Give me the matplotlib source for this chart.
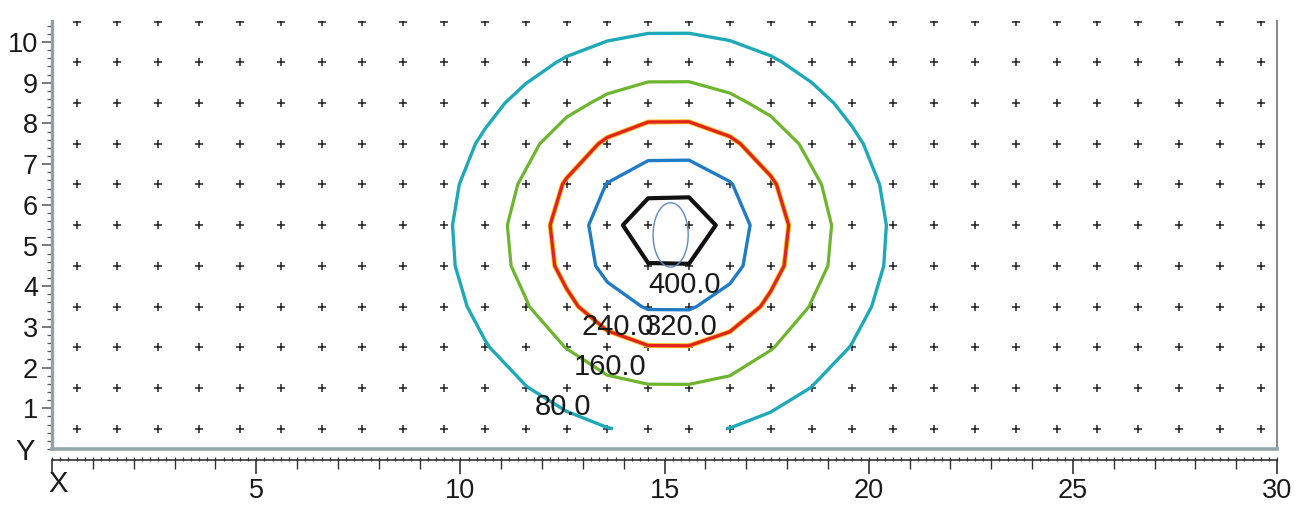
import numpy as np
import matplotlib
matplotlib.use("Agg")
import matplotlib.pyplot as plt
from matplotlib.ticker import MultipleLocator, FixedLocator, FuncFormatter

# ---------------- data ----------------
# receptor grid nodes (the "+" markers)
grid_x = [0.6, 1.6, 2.6, 3.6, 4.6, 5.6, 6.6, 7.6, 8.6, 9.6,
          10.6, 11.6, 12.6, 13.6, 14.6, 15.6, 16.6, 17.6, 18.6, 19.6,
          20.6, 21.6, 22.6, 23.6, 24.6, 25.6, 26.6, 27.6, 28.6, 29.6]
grid_y = [0.5, 1.5, 2.5, 3.5, 4.5, 5.5, 6.5, 7.5, 8.5, 9.5, 10.5]

source_x = 15.12
source_y = 5.28
contour_levels = [80, 160, 240, 320, 400]
ring_radius_x = [5.33, 3.88, 2.91, 2.02, 1.02]
ring_radius_y = [4.96, 3.69, 2.78, 1.94, 0.82]
peak_value = 560.0
far_value = 0.0
far_radius_factor = 1.25

# small innermost (unlabelled) loop
inner_x = 15.15
inner_y = 5.26
inner_rx = 0.43
inner_ry = 0.79

x_tick_labels = [5, 10, 15, 20, 25, 30]
y_tick_labels = [1, 2, 3, 4, 5, 6, 7, 8, 9, 10]

# ---------------- styles ----------------
ring_colors = ["#1ea9b9", "#6cb52c", "#e3211f", "#1f7bc6", "#111111"]
ring_widths = [2.4, 2.3, 2.3, 2.4, 3.0]
label_font = "Liberation Sans"
y_top = 10.51
px_per_unit_y = 40.7
axes_h_px = y_top * px_per_unit_y

# ---------------- build field on the receptor grid ----------------
GX, GY = np.meshgrid(np.array(grid_x), np.array(grid_y))
Z = np.zeros_like(GX)
lv = np.array(contour_levels, dtype=float)
rx = np.array(ring_radius_x)
ry = np.array(ring_radius_y)
order = np.argsort(rx)
for i in range(GX.shape[0]):
    for j in range(GX.shape[1]):
        dx = GX[i, j] - source_x
        dy = GY[i, j] - source_y
        d = np.hypot(dx, dy)
        th = np.arctan2(dy, dx)
        r_k = 1.0 / np.sqrt((np.cos(th) / rx) ** 2 + (np.sin(th) / ry) ** 2)
        radii = np.concatenate([[0.0], r_k[order], [r_k[order][-1] * far_radius_factor]])
        vals = np.concatenate([[peak_value], lv[order], [far_value]])
        Z[i, j] = np.interp(d, radii, vals)

# ---------------- figure ----------------
fig = plt.figure(figsize=(13.12, 5.11), dpi=100)
ax = fig.add_axes([52 / 1312, 62 / 511, 1225 / 1312, axes_h_px / 511])
ax.set_xlim(0, 30)
ax.set_ylim(0, y_top)

# grid markers
ax.plot(GX.ravel(), GY.ravel(), linestyle="none", marker="+", color="#222222",
        markersize=6.2, markeredgewidth=1.1, zorder=2)

# red ring yellow fringe
ax.contour(GX, GY, Z, levels=[contour_levels[2]], colors=["#f2c21a"],
           linewidths=[3.6], zorder=3)
ax.contour(GX, GY, Z, levels=contour_levels, colors=ring_colors,
           linewidths=ring_widths, zorder=4)

# innermost thin loop
fx = np.linspace(inner_x - 1.0, inner_x + 1.0, 200)
fy = np.linspace(inner_y - 1.5, inner_y + 1.5, 200)
FX, FY = np.meshgrid(fx, fy)
F = ((FX - inner_x) / inner_rx) ** 2 + ((FY - inner_y) / inner_ry) ** 2
ax.contour(FX, FY, F, levels=[1.0], colors=["#5d8cc2"], linewidths=[1.0], zorder=4)

# contour labels (manual placement like the original)
label_pos = {400: (15.50, 4.03), 320: (15.41, 3.0), 240: (13.86, 3.0),
             160: (13.67, 2.01), 80: (12.52, 1.03)}
for lev in contour_levels:
    px, py = label_pos[lev]
    ax.text(px, py, f"{lev:.1f}", ha="center", va="center", fontsize=21,
            family=label_font, color="#1a1a1a", zorder=6)

# spines / frame
ax.spines["top"].set_visible(False)
ax.spines["left"].set_color("#8fa2a8")
ax.spines["left"].set_linewidth(2.4)
ax.spines["right"].set_color("#8a8a8a")
ax.spines["right"].set_linewidth(1.5)
ax.axhline(0, color="#94a6aa", linewidth=2.6, clip_on=False, zorder=5)

# x ruler (offset below frame)
ax.spines["bottom"].set_position(("outward", 8))
ax.spines["bottom"].set_color("#333333")
ax.spines["bottom"].set_linewidth(1.2)
ax.xaxis.set_major_locator(MultipleLocator(5))
ax.xaxis.set_minor_locator(MultipleLocator(1))
ax.xaxis.set_major_formatter(FuncFormatter(lambda v, p: f"{int(round(v))}" if int(round(v)) in x_tick_labels else ""))
ax.tick_params(axis="x", which="major", length=10, width=1.2, pad=3,
               labelsize=19.5, colors="#333333", labelcolor="#1a1a1a")
ax.tick_params(axis="x", which="minor", length=6.5, width=1.0, colors="#333333")

sec = ax.secondary_xaxis(location=-8 / axes_h_px)
sec.xaxis.set_major_locator(MultipleLocator(0.2))
sec.tick_params(axis="x", which="major", length=3, width=0.9, labelbottom=False,
                colors="#333333")
sec.xaxis.set_minor_locator(FixedLocator([]))
for s in sec.spines.values():
    s.set_visible(False)

# y axis
ax.yaxis.set_major_locator(FixedLocator(y_tick_labels))
ax.yaxis.set_minor_locator(MultipleLocator(0.2))
ax.tick_params(axis="y", which="major", length=7, width=1.1, pad=3,
               labelsize=19.5, colors="#555555", labelcolor="#1a1a1a")
ax.tick_params(axis="y", which="minor", length=3.5, width=0.9, colors="#555555")

for lab in ax.get_xticklabels() + ax.get_yticklabels():
    lab.set_family(label_font)

fig.text(25 / 1312, 1 - 452 / 511, "Y", fontsize=21, family=label_font,
         ha="center", va="center", color="#1a1a1a")
fig.text(58 / 1312, 1 - 484 / 511, "X", fontsize=21, family=label_font,
         ha="center", va="center", color="#1a1a1a")

fig.savefig("out.png", dpi=100)
